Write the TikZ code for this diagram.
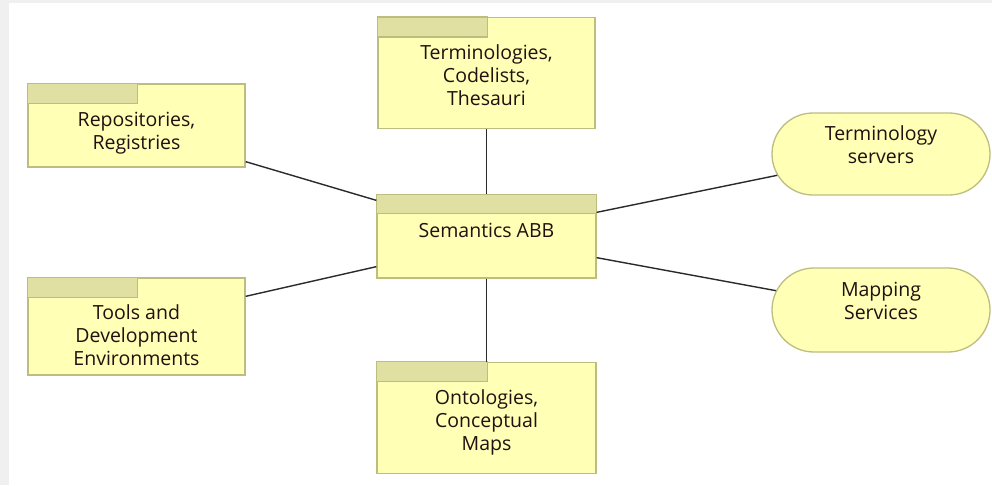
\documentclass[tikz,border=0pt]{standalone}
\usepackage{fontspec}
\setmainfont{Open Sans}
\usetikzlibrary{positioning,shapes.misc}

\definecolor{abbfill}{HTML}{FFFFB5}
\definecolor{abbtab}{HTML}{E0E0A2}
\definecolor{abbline}{HTML}{BDBD80}
\definecolor{abbtext}{HTML}{221010}
\definecolor{edge}{HTML}{2A2A2A}

% text of a box: height, first baseline, lines
\newcommand{\boxlabel}[4][190pt]{\parbox[c][#2][t]{#1}{\centering\rule{0pt}{#3}#4}}

\tikzset{
  abb/.style={draw=abbline, fill=abbfill, line width=1.3pt, inner sep=0pt,
    minimum width=217pt, text=abbtext, font=\fontsize{19.5}{23}\selectfont},
  svc/.style={abb, rounded rectangle, minimum width=218pt},
  tab/.style={draw=abbline, fill=abbtab, line width=1.3pt},
  link/.style={draw=edge, line width=1.4pt}
}

\begin{document}
\begin{tikzpicture}[x=1pt,y=-1pt]
\fill[black!6] (0,0) rectangle (992,485);
\fill[white] (9,3) rectangle (992,485);
\useasboundingbox (0,0) rectangle (992,485);

\node[abb, minimum width=219pt, minimum height=83pt] (abb) at (486.5,236.5) {\boxlabel{83pt}{42pt}{Semantics ABB}};
\node[abb, minimum height=111pt, above=65pt of abb] (term) {\boxlabel{111pt}{42pt}{Terminologies,\\Codelists,\\Thesauri}};
\node[abb, minimum width=219pt, minimum height=111pt, below=83pt of abb] (onto) {\boxlabel{111pt}{42pt}{Ontologies,\\Conceptual\\Maps}};
\node[abb, minimum height=83pt] (repo) at (136.5,125.5) {\boxlabel{83pt}{42pt}{Repositories,\\Registries}};
\node[abb, minimum height=97pt] (tools) at (136.5,326.5) {\boxlabel{97pt}{41pt}{Tools and\\Development\\Environments}};
\node[svc, minimum height=82pt] (tsrv) at (881,154) {\boxlabel[130pt]{82pt}{27pt}{Terminology\\servers}};
\node[svc, minimum height=84pt] (map) at (881,310) {\boxlabel[130pt]{84pt}{28pt}{Mapping\\Services}};

% tabs
\filldraw[tab] (abb.north west) rectangle ([yshift=-19pt]abb.north east);
\filldraw[tab] (term.north west) rectangle ++(110,20);
\filldraw[tab] (onto.north west) rectangle ++(111,20);
\filldraw[tab] (repo.north west) rectangle ++(110,20);
\filldraw[tab] (tools.north west) rectangle ++(110,20);

% links
\draw[link] ([yshift=6pt]repo.south east) -- ([yshift=-6pt]abb.north west);
\draw[link] ([yshift=-19pt]tools.north east) -- ([yshift=12pt]abb.south west);
\draw[link] (term.south) -- (abb.north);
\draw[link] (abb.south) -- (onto.north);
\draw[link] ([yshift=-18pt]abb.north east) -- (tsrv);
\draw[link] ([yshift=21pt]abb.south east) -- (map);
\end{tikzpicture}
\end{document}
